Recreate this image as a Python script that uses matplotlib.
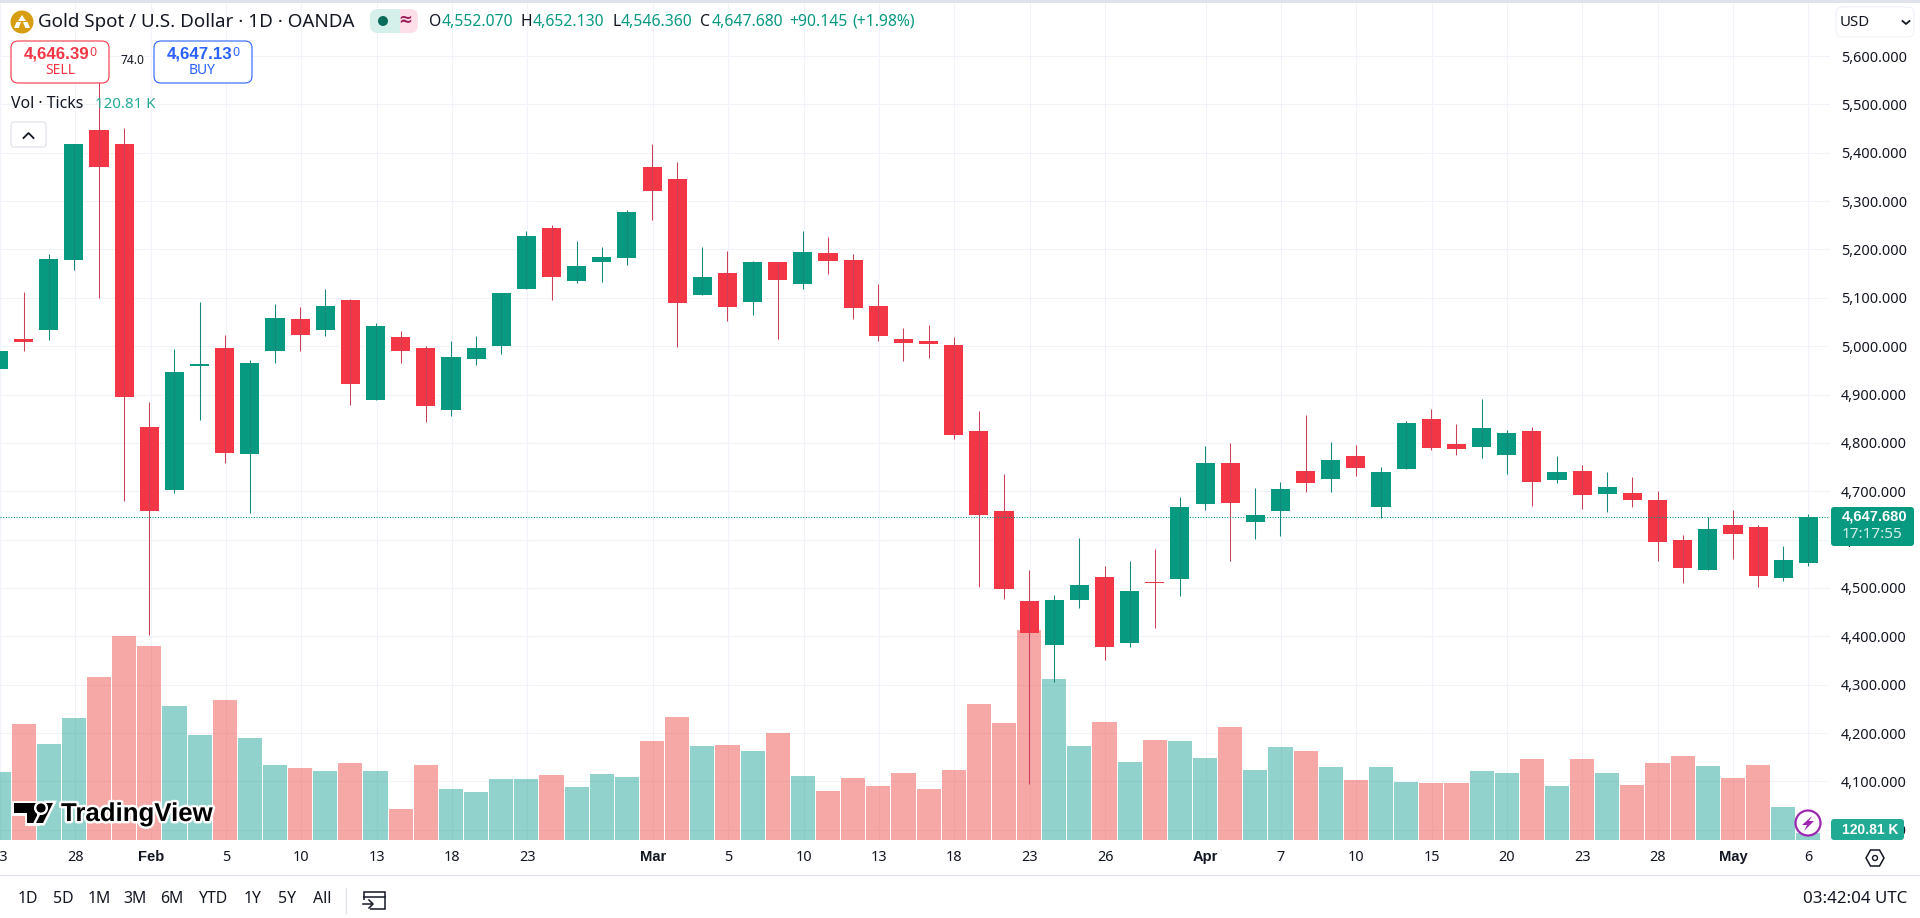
import numpy as np
import matplotlib
matplotlib.use("Agg")
import matplotlib.pyplot as plt
from matplotlib.patches import Circle, FancyBboxPatch, Polygon, Rectangle
from matplotlib.ticker import FuncFormatter
import matplotlib.patheffects as pe

plt.rcParams['font.family'] = ['Noto Sans', 'DejaVu Sans']

# -----------------------------
# Data
# -----------------------------
opens = [4952, 5015, 5034, 5179, 5448, 5419, 4833, 4703, 4958, 4997, 4778, 4989, 5057, 5033, 5096, 4888, 5018, 4997, 4869, 4973,
         5000, 5118, 5245, 5134, 5174, 5182, 5370, 5345, 5105, 5152, 5091, 5173, 5128, 5192, 5179, 5084, 5015, 5011, 5003, 4825,
         4660, 4474, 4381, 4476, 4523, 4387, 4513, 4518, 4673, 4759, 4637, 4660, 4742, 4726, 4773, 4668, 4745, 4850, 4798, 4792,
         4774, 4825, 4724, 4742, 4695, 4697, 4682, 4600, 4538, 4630, 4626, 4520, 4552.07]
highs = [4995, 5113, 5191, 5419, 5595, 5452, 4885, 4995, 5092, 5024, 4972, 5088, 5080, 5119, 5097, 5047, 5032, 5001, 5011, 5022,
         5109, 5239, 5250, 5218, 5206, 5281, 5419, 5380, 5206, 5196, 5177, 5173, 5239, 5225, 5191, 5129, 5038, 5044, 5018, 4866,
         4736, 4538, 4486, 4604, 4546, 4556, 4581, 4688, 4794, 4800, 4707, 4719, 4858, 4802, 4796, 4750, 4846, 4870, 4839, 4891,
         4827, 4833, 4773, 4754, 4740, 4730, 4701, 4610, 4647, 4661, 4630, 4587, 4652.13]
lows = [4945, 4991, 5013, 5158, 5099, 4680, 4402, 4697, 4848, 4759, 4656, 4966, 4989, 5020, 4879, 4888, 4966, 4844, 4855, 4962,
        4983, 5118, 5095, 5130, 5132, 5167, 5260, 4998, 5105, 5051, 5064, 5015, 5118, 5150, 5056, 5010, 4969, 4975, 4807, 4503,
        4478, 4095, 4306, 4458, 4352, 4377, 4418, 4484, 4662, 4555, 4602, 4608, 4699, 4699, 4732, 4645, 4745, 4786, 4774, 4768,
        4736, 4670, 4716, 4664, 4658, 4668, 4556, 4511, 4538, 4560, 4503, 4515, 4546.36]
closes = [4989, 5008, 5181, 5419, 5370, 4894, 4660, 4947, 4963, 4780, 4966, 5059, 5024, 5084, 4921, 5042, 4991, 4877, 4978, 4997,
          5109, 5227, 5143, 5165, 5185, 5278, 5321, 5089, 5142, 5080, 5173, 5136, 5194, 5176, 5078, 5020, 5006, 5004, 4817, 4650,
          4497, 4406, 4476, 4507, 4377, 4494, 4511, 4668, 4759, 4675, 4651, 4705, 4717, 4765, 4749, 4740, 4841, 4790, 4788, 4831,
          4821, 4720, 4740, 4693, 4709, 4681, 4596, 4542, 4622, 4612, 4524, 4558, 4647.68]
# volume in thousands of ticks
volumes = [1174, 2002, 1657, 2106, 2813, 3521, 3348, 2313, 1812, 2416, 1761, 1295, 1243, 1191, 1329, 1191, 535, 1295, 880, 829,
           1053, 1053, 1122, 915, 1139, 1087, 1709, 2123, 1622, 1640, 1536, 1847, 1105, 846, 1070, 932, 1156, 880, 1208, 2347,
           2019, 3625, 2779, 1622, 2037, 1346, 1726, 1709, 1415, 1950, 1208, 1605, 1536, 1260, 1036, 1260, 1001, 984, 984, 1191,
           1156, 1398, 932, 1398, 1156, 949, 1329, 1450, 1277, 1070, 1295, 570, 120.81]

tick_pos = [0, 3, 6, 9, 12, 15, 18, 21, 26, 29, 32, 35, 38, 41, 44, 48, 51, 54, 57, 60, 63, 66, 69, 72]
tick_labels = ['23', '28', 'Feb', '5', '10', '13', '18', '23', 'Mar', '5', '10', '13', '18', '23', '26', 'Apr', '7', '10', '15',
               '20', '23', '28', 'May', '6']
month_labels = ['Feb', 'Mar', 'Apr', 'May']
price_ticks = list(range(4000, 5700, 100))
ranges = ['1D', '5D', '1M', '3M', '6M', 'YTD', '1Y', '5Y', 'All']
range_x = [28, 63, 99, 135, 172, 213, 253, 287, 322]

GREEN = '#089981'
RED = '#F23645'
INK = '#131722'
GRID = '#F0F3FA'
LINE = '#E0E3EB'
BOLD_FONT = 'Liberation Sans'

W, H = 1920, 918
fig = plt.figure(figsize=(W / 100, H / 100), dpi=100, facecolor='white')

# pane is 1830 px wide and stops at y=840
rect = [0, (H - 840) / H, 1830 / W, 837 / H]
xlim = (0.06, 72.86)
price_lim = (3978.8, 5709.6)
vol_lim = (0, 837 * 17.26)

# -----------------------------
# Background axes: grid and axis labels
# -----------------------------
ax = fig.add_axes(rect, zorder=0)
ax.set_xlim(xlim)
ax.set_ylim(price_lim)
ax.set_yticks(price_ticks)
ax.yaxis.set_major_formatter(FuncFormatter(lambda v, p: f"{v:,.3f}"))
ax.yaxis.tick_right()
ax.set_xticks(tick_pos)
ax.set_xticklabels(tick_labels)
ax.tick_params(axis='both', length=0, labelcolor=INK, labelsize=10.4)
ax.tick_params(axis='y', pad=8)
ax.tick_params(axis='x', pad=7.5)
for lab in ax.get_xticklabels():
    if lab.get_text() in month_labels:
        lab.set_fontweight('bold')
        lab.set_family(BOLD_FONT)
        lab.set_fontsize(10.6)
ax.grid(True, color=GRID, lw=0.75)
ax.set_axisbelow(True)
for s in ax.spines.values():
    s.set_visible(False)

# -----------------------------
# Volume
# -----------------------------
x = np.arange(len(closes))
up = np.array(closes) >= np.array(opens)

ax_vol = fig.add_axes(rect, zorder=1, facecolor='none')
ax_vol.set_xlim(xlim)
ax_vol.set_ylim(vol_lim)
ax_vol.bar(x, volumes, width=0.96, color=np.where(up, '#26A69A', '#EF5350'), alpha=0.5, lw=0)
ax_vol.axis('off')

# -----------------------------
# Candles
# -----------------------------
ax_c = fig.add_axes(rect, zorder=2, facecolor='none')
ax_c.set_xlim(xlim)
ax_c.set_ylim(price_lim)
body_low = np.minimum(opens, closes)
body_high = np.maximum(opens, closes)
ax_c.vlines(x, lows, highs, colors=np.where(up, '#12897A', '#CC3F58'), lw=0.75)
ax_c.bar(x, np.maximum(body_high - body_low, 2), bottom=body_low, width=0.76,
         color=np.where(up, GREEN, RED), lw=0)
ax_c.axhline(closes[-1], color=GREEN, lw=0.8, ls=(0, (1, 1.4)))
ax_c.axis('off')

# -----------------------------
# Interface around the chart (pixel coordinates)
# -----------------------------
ui = fig.add_axes([0, 0, 1, 1], zorder=5, facecolor='none')
ui.set_xlim(0, W)
ui.set_ylim(H, 0)
ui.axis('off')


def label(px, py, s, size=10.4, color=INK, ha='left', **kw):
    return ui.text(px, py, s, fontsize=size, color=color, ha=ha, va='center', **kw)


def strong(px, py, s, size=10.4, color=INK, ha='left', **kw):
    return label(px, py, s, size=size, color=color, ha=ha, family=BOLD_FONT, fontweight='bold', **kw)


def box(x0, y0, x1, y1, face='white', edge='none', lw=1, r=6):
    p = FancyBboxPatch((x0 + r, y0 + r), x1 - x0 - 2 * r, y1 - y0 - 2 * r,
                       boxstyle=f"round,pad={r},rounding_size={r}", fc=face, ec=edge, lw=lw)
    ui.add_patch(p)
    return p


ui.add_patch(Rectangle((0, 0), W, 2.5, fc=LINE, ec='none'))
ui.plot([0, W], [875, 875], color=LINE, lw=0.9)

# header
ui.add_patch(Circle((22, 22), 11.5, fc='#D89E12', ec='none'))
ui.add_patch(Polygon([(22, 15), (26, 21), (18, 21)], fc='white', ec='none'))
ui.add_patch(Polygon([(16.5, 22), (21, 22), (18.7, 28), (14, 28)], fc='white', ec='none'))
ui.add_patch(Polygon([(23, 22), (27.5, 22), (30, 28), (25.3, 28)], fc='white', ec='none'))
label(38, 22, 'Gold Spot / U.S. Dollar · 1D · OANDA', size=13.5)

box(370, 9, 400, 33, face='#D5F0EA', r=8)
box(394, 9, 418, 33, face='#FCDFE9', r=8)
ui.add_patch(Rectangle((394, 9), 6, 24, fc='#D5F0EA', ec='none'))
ui.add_patch(Circle((383, 21), 5, fc='#0B6B5B', ec='none'))
label(405, 21, '≈', size=12, color='#9C1F5B', ha='center', fontweight='bold')

ohlc_text = [(429, 'O', INK), (442, '4,552.070', GREEN), (520, 'H', INK), (533, '4,652.130', GREEN),
             (612, 'L', INK), (621, '4,546.360', GREEN), (700, 'C', INK), (712, '4,647.680', GREEN),
             (789, '+90.145', GREEN), (852, '(+1.98%)', GREEN)]
for px, s, c in ohlc_text:
    label(px, 22, s, size=11.3, color=c)

# sell / buy
box(11, 41, 109, 83, edge=RED, lw=0.8, r=7)
strong(24, 54, '4,646.39', size=12.2, color=RED)
label(89, 52, '0', size=9, color=RED)
label(60, 71, 'SELL', size=10, color=RED, ha='center')
label(132, 61, '74.0', size=8.6, ha='center')
box(154, 41, 252, 83, edge='#2962FF', lw=0.8, r=7)
strong(167, 54, '4,647.13', size=12.2, color='#2962FF')
label(232, 52, '0', size=9, color='#2962FF')
label(202, 71, 'BUY', size=10, color='#2962FF', ha='center')

# volume legend
label(11, 104, 'Vol · Ticks', size=11.4)
label(95, 104, '120.81 K', size=10.8, color='#22AB94')
box(11, 122, 46, 147, edge=LINE, lw=0.9, r=3)
ui.plot([23.5, 28.5, 33.5], [138, 133, 138], color=INK, lw=1.3)

# currency selector
box(1836, 7, 1914, 37, edge=GRID, lw=0.9, r=6)
label(1840, 22, 'USD', size=10.8)
ui.plot([1902.5, 1906, 1909.5], [21, 24, 21], color=INK, lw=1.3)

# last price and last volume badges
box(1831, 507, 1914, 546, face=GREEN, r=3)
strong(1842, 516.5, '4,647.680', size=10.6, color='white')
label(1842, 535, '17:17:55', size=11, color='#D5F0EA')
box(1831, 819, 1904, 840, face='#22AB94', r=3)
strong(1842, 829.5, '120.81 K', size=10, color='white')

# lightning marker
ui.add_patch(Circle((1808, 823), 12.5, fc='white', ec='#9C27B0', lw=1.6))
ui.add_patch(Polygon([(1812, 816), (1802, 825), (1807, 825), (1804, 831), (1814, 821), (1809, 821)], fc='#9C27B0', ec='none'))

# settings hexagon
ui.add_patch(Polygon([(1866, 858), (1870.5, 850), (1879.5, 850), (1884, 858), (1879.5, 866), (1870.5, 866)],
                     fc='white', ec=INK, lw=1.1))
ui.add_patch(Circle((1875, 858), 2.5, fc='white', ec=INK, lw=1))

# bottom bar
for px, s in zip(range_x, ranges):
    label(px, 899, s, size=11.4, ha='center')
ui.plot([346, 346], [888, 913], color=LINE, lw=0.9)
ui.add_patch(Rectangle((364, 892), 21, 17, fc='none', ec=INK, lw=1.1))
ui.plot([364, 385], [897, 897], color=INK, lw=1.1)
ui.add_patch(Rectangle((358, 900), 12, 10, fc='white', ec='none'))
ui.plot([363, 372], [904, 904], color=INK, lw=1.1)
ui.plot([369, 373, 369], [900, 904, 908], color=INK, lw=1.1)
label(1907, 899, '03:42:04 UTC', size=12.2, ha='right')

# TradingView logo
halo = [pe.withStroke(linewidth=3.5, foreground='white')]
logo = [Polygon([(14, 803), (37, 803), (37, 823), (27, 823), (27, 813), (14, 813)], fc='black', ec='none'),
        Polygon([(46, 803), (53, 803), (43, 823), (36, 823)], fc='black', ec='none')]
for p in logo:
    p.set_path_effects(halo)
    ui.add_patch(p)
dot = Circle((41, 808), 4.6, fc='black', ec='none')
dot.set_path_effects(halo)
ui.add_patch(dot)
strong(61, 814, 'TradingView', size=18.6, color='black', path_effects=halo)

fig.savefig('out.png', dpi=100)
